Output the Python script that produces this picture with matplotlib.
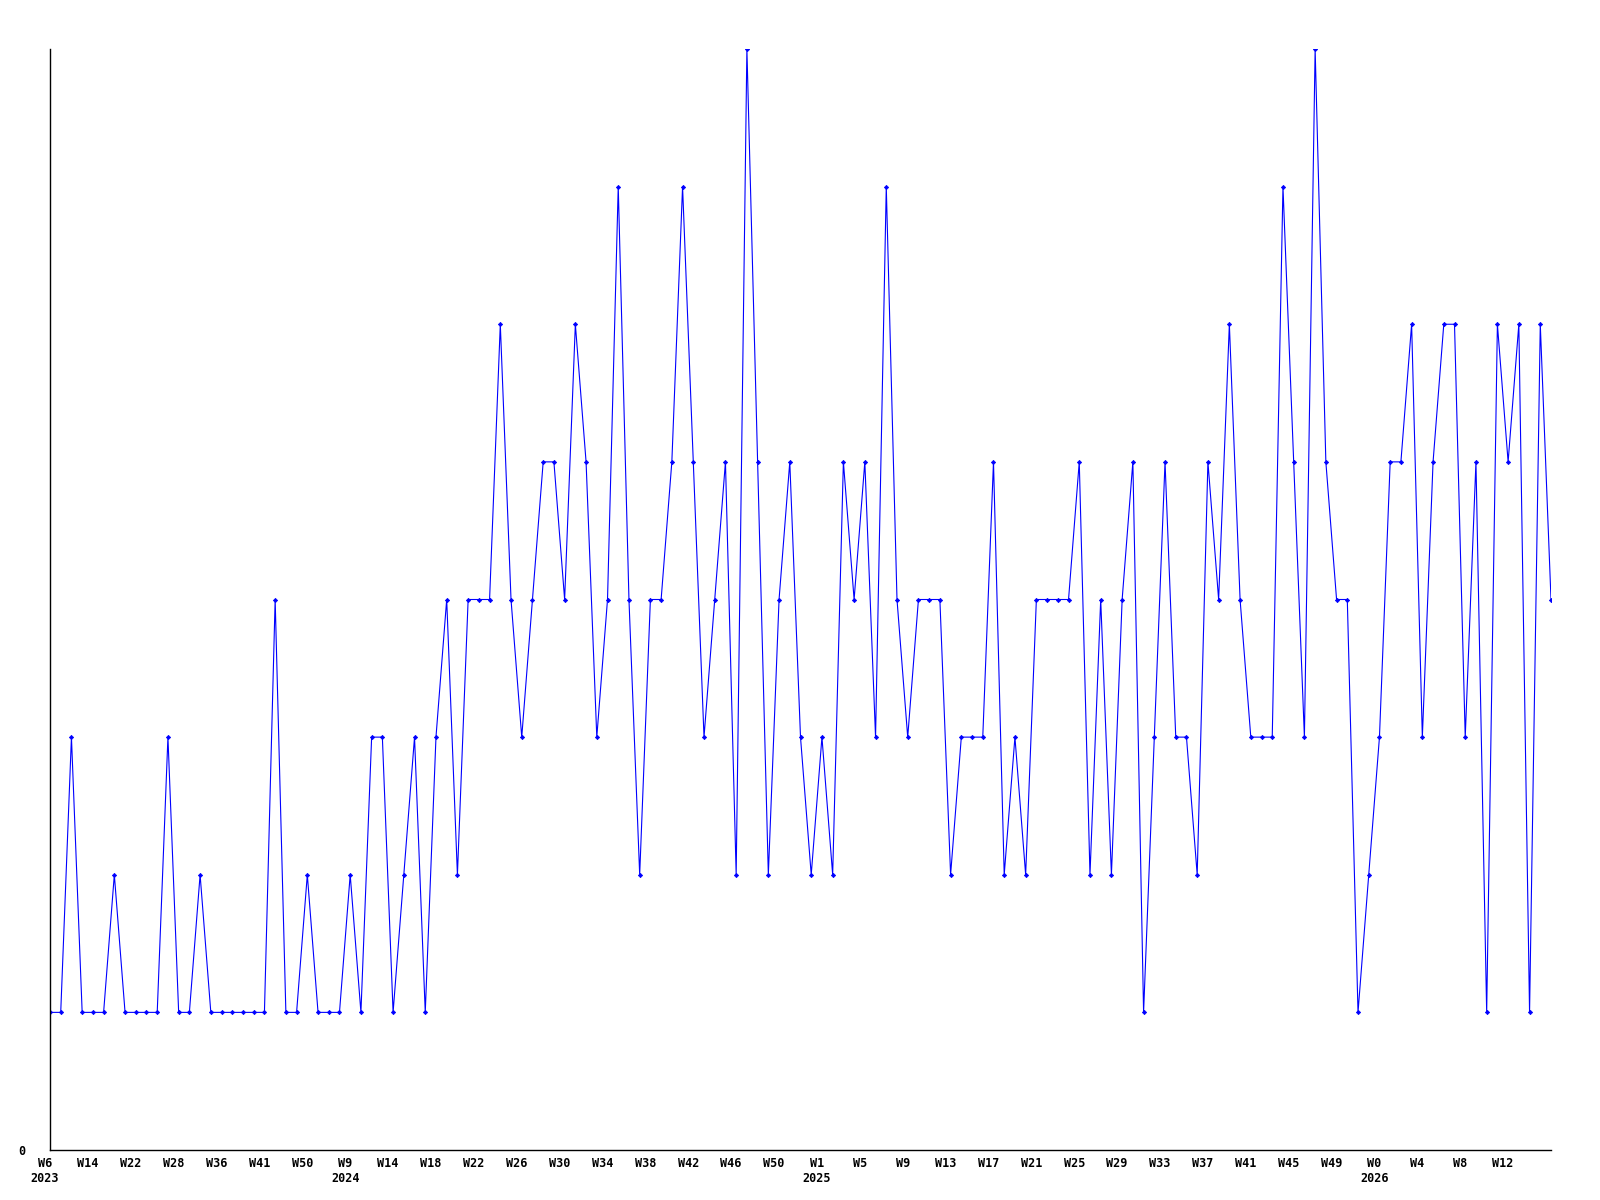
import matplotlib
matplotlib.use("Agg")
import matplotlib.pyplot as plt
import matplotlib.transforms as mtransforms
import numpy as np

values = [1, 1, 3, 1, 1, 1, 2, 1, 1, 1, 1, 3, 1, 1, 2, 1, 1, 1, 1, 1,
          1, 4, 1, 1, 2, 1, 1, 1, 2, 1, 3, 3, 1, 2, 3, 1, 3, 4, 2, 4,
          4, 4, 6, 4, 3, 4, 5, 5, 4, 6, 5, 3, 4, 7, 4, 2, 4, 4, 5, 7,
          5, 3, 4, 5, 2, 8, 5, 2, 4, 5, 3, 2, 3, 2, 5, 4, 5, 3, 7, 4,
          3, 4, 4, 4, 2, 3, 3, 3, 5, 2, 3, 2, 4, 4, 4, 4, 5, 2, 4, 2,
          4, 5, 1, 3, 5, 3, 3, 2, 5, 4, 6, 4, 3, 3, 3, 7, 5, 3, 8, 5,
          4, 4, 1, 2, 3, 5, 5, 6, 3, 5, 6, 6, 3, 5, 1, 6, 5, 6, 1, 6, 4]

week_labels = ["W6", "W14", "W22", "W28", "W36", "W41", "W50", "W9", "W14", "W18",
               "W22", "W26", "W30", "W34", "W38", "W42", "W46", "W50", "W1", "W5",
               "W9", "W13", "W17", "W21", "W25", "W29", "W33", "W37", "W41", "W45",
               "W49", "W0", "W4", "W8", "W12"]
year_at = {0: "2023", 7: "2024", 18: "2025", 31: "2026"}
tick_step = 4

fig = plt.figure(figsize=(16, 12), dpi=100)
ax = fig.add_axes([50/1600, 50/1200, 1501/1600, 1101/1200])

x = np.arange(len(values))
ax.plot(x, values, color=(0, 0, 1), linewidth=0.8, marker='D', markersize=2.2,
        markeredgewidth=0.5, markerfacecolor=(0, 0, 1), markeredgecolor=(0, 0, 1))

ax.set_xlim(0, len(values) - 1)
ax.set_ylim(0, 8)

labels = []
for k, w in enumerate(week_labels):
    if k in year_at:
        labels.append(w + "\n" + year_at[k])
    else:
        labels.append(w)
ax.tick_params(axis='x', length=0, pad=5)
ax.tick_params(axis='y', length=0, pad=18)
ax.set_xticks(np.arange(len(week_labels)) * tick_step)
ax.set_xticklabels(labels, fontsize=8.5, fontweight='bold', family='DejaVu Sans Mono',
                   linespacing=1.2, va='top')
ax.set_yticks([0])
ax.set_yticklabels(["0"], fontsize=8.5, fontweight='bold', family='DejaVu Sans Mono')

offset = mtransforms.ScaledTranslation(-5/100, 0, fig.dpi_scale_trans)
for lab in ax.xaxis.get_majorticklabels():
    lab.set_transform(lab.get_transform() + offset)

ax.spines['top'].set_visible(False)
ax.spines['right'].set_visible(False)
ax.spines['left'].set_linewidth(1)
ax.spines['bottom'].set_linewidth(1)

fig.savefig("out.png", dpi=100)
